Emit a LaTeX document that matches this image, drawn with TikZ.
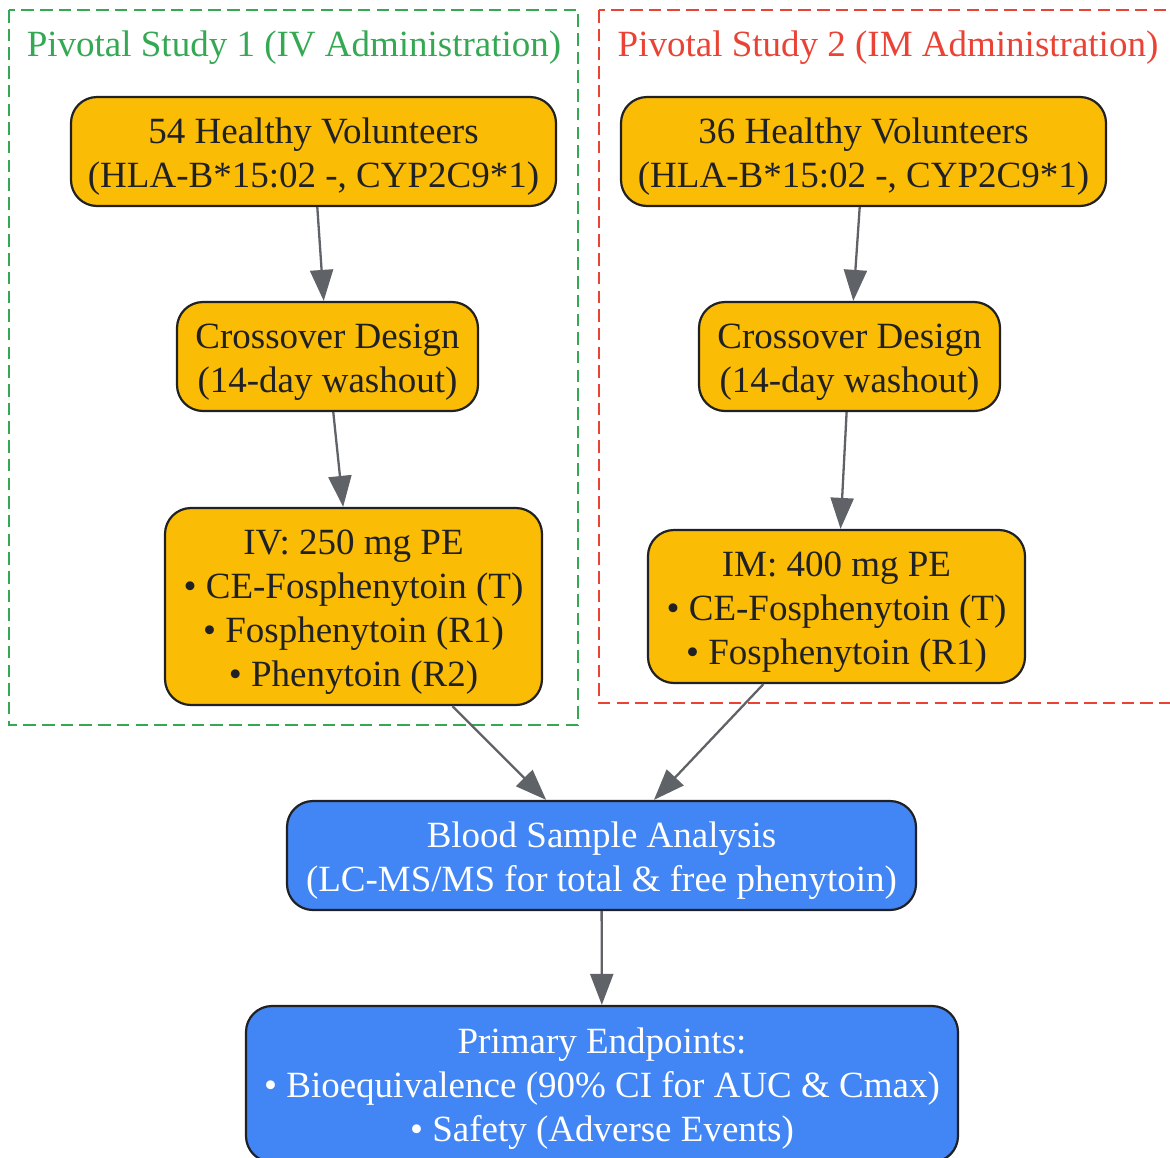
\documentclass[tikz,border=0pt]{standalone}
\usepackage{fontspec}
\setmainfont{Liberation Serif}
\usetikzlibrary{arrows.meta}
\definecolor{gold}{HTML}{FBBC05}
\definecolor{gblue}{HTML}{4285F4}
\definecolor{ggreen}{HTML}{34A853}
\definecolor{gred}{HTML}{EA4335}
\definecolor{edgegray}{HTML}{5F6368}
\definecolor{ink}{HTML}{202124}
\newcommand{\btext}[1]{\raisebox{0pt}[\dimexpr\height+10pt\relax][\depth]{\begin{tabular}{@{}c@{}}#1\end{tabular}}}
\tikzset{
  box/.style={draw=ink, line width=2.2pt, rounded corners=26pt, inner sep=0pt,
    font=\fontsize{37}{44}\selectfont},
  goldbox/.style={box, fill=gold, text=ink},
  bluebox/.style={box, fill=gblue, text=white},
  cluster/.style={dash pattern=on 12.5pt off 6.2pt, line width=2pt},
  clabel/.style={inner sep=0pt, font=\fontsize{37}{44}\selectfont},
  flow/.style={draw=edgegray, line width=2.3pt, -{Triangle[length=31pt,width=23pt]}}
}
\begin{document}
\begin{tikzpicture}[x=1pt,y=-1pt]
\useasboundingbox (0,0) rectangle (1170,1157);
\clip (0,0) rectangle (1170,1157);
% clusters
\draw[cluster, ggreen] (9,10) rectangle (578,725);
\draw[cluster, gred] (599,10) rectangle (1190,703);
\node[clabel, text=ggreen] (L1) at (294,48) {Pivotal Study 1 (IV Administration)};
\node[clabel, text=gred] (L2) at (888,48) {Pivotal Study 2 (IM Administration)};
% study 1
\node[goldbox, minimum width=485pt, minimum height=109pt] (A1) at (313.5,151.5)
  {\btext{54 Healthy Volunteers\\(HLA-B*15:02 -, CYP2C9*1)}};
\node[goldbox, minimum width=301pt, minimum height=109pt] (B1) at (327.5,356.5)
  {\btext{Crossover Design\\(14-day washout)}};
\node[goldbox, minimum width=377pt, minimum height=197pt] (C1) at (353.5,606.5)
  {\btext{IV: 250 mg PE\\• CE-Fosphenytoin (T)\\• Fosphenytoin (R1)\\• Phenytoin (R2)}};
% study 2
\node[goldbox, minimum width=485pt, minimum height=109pt] (A2) at (863.5,151.5)
  {\btext{36 Healthy Volunteers\\(HLA-B*15:02 -, CYP2C9*1)}};
\node[goldbox, minimum width=301pt, minimum height=109pt] (B2) at (849.5,356.5)
  {\btext{Crossover Design\\(14-day washout)}};
\node[goldbox, minimum width=377pt, minimum height=153pt] (C2) at (836.5,606.5)
  {\btext{IM: 400 mg PE\\• CE-Fosphenytoin (T)\\• Fosphenytoin (R1)}};
% shared
\node[bluebox, minimum width=629pt, minimum height=109pt] (D) at (601.5,855.5)
  {\btext{Blood Sample Analysis\\(LC-MS/MS for total \& free phenytoin)}};
\node[bluebox, minimum width=712pt, minimum height=156pt] (E) at (602,1084)
  {\btext{Primary Endpoints:\\• Bioequivalence (90\% CI for AUC \& Cmax)\\• Safety (Adverse Events)}};
% edges
\draw[flow] (A1) -- (B1);
\draw[flow] (B1) -- (C1);
\draw[flow] (A2) -- (B2);
\draw[flow] (B2) -- (C2);
\draw[flow] (C1) -- (D);
\draw[flow] (C2) -- (D);
\draw[flow] (D) -- (E);
\end{tikzpicture}
\end{document}
